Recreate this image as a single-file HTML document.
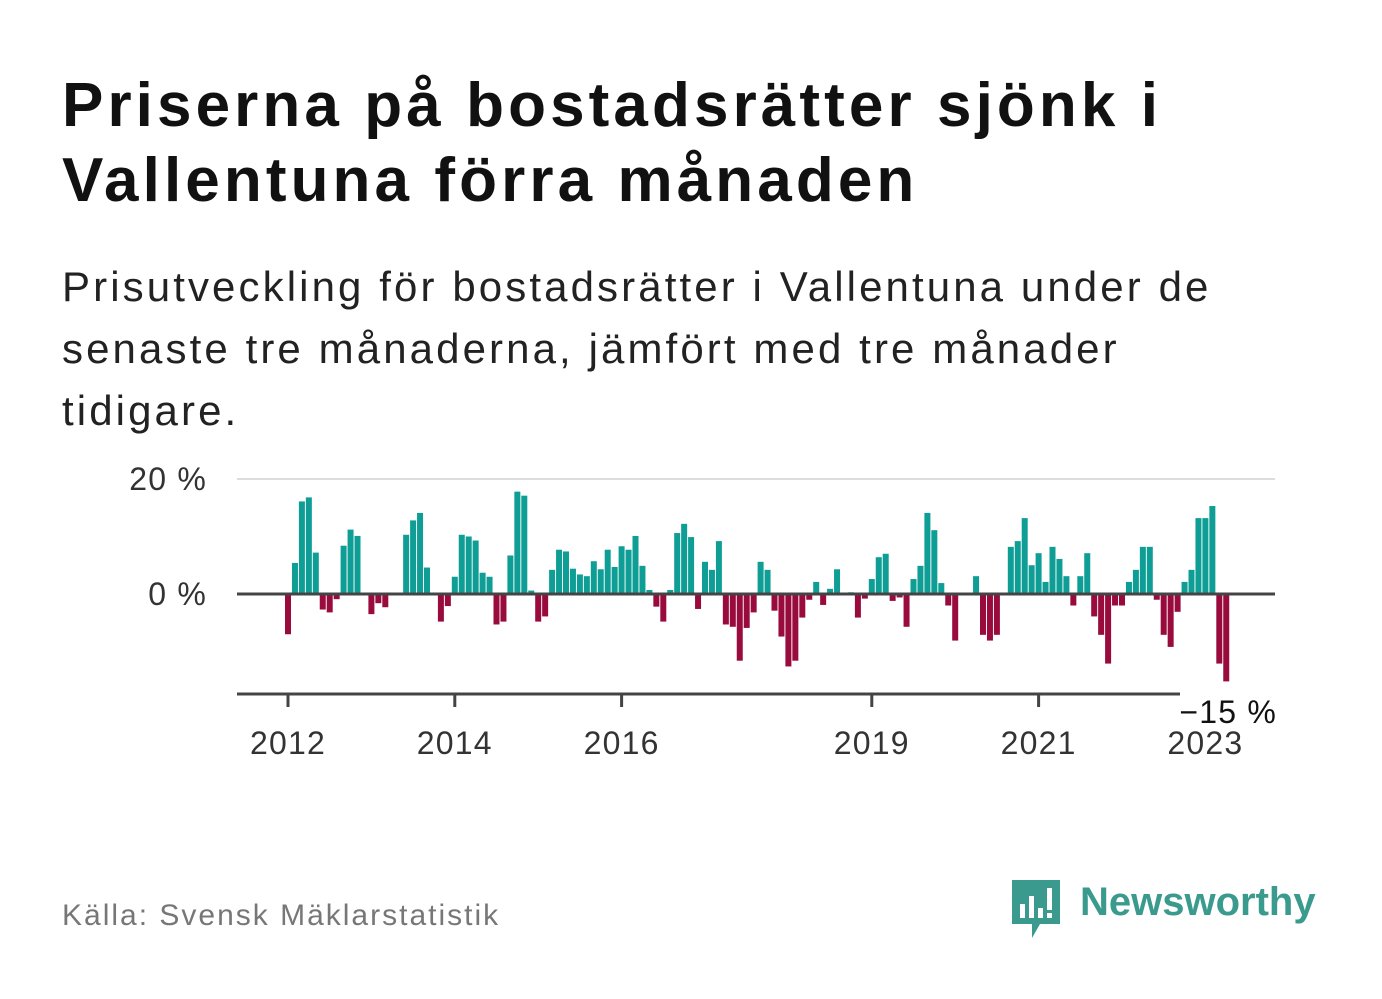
<!DOCTYPE html>
<html><head><meta charset="utf-8"><style>
body{margin:0;width:1382px;height:999px;background:#fff;font-family:"Liberation Sans",sans-serif;position:relative;overflow:hidden}
.t{position:absolute;left:62px;top:68px;font-size:62px;font-weight:bold;color:#111;line-height:75px;width:1300px;letter-spacing:4.1px;white-space:nowrap}
.s{position:absolute;left:62px;top:256px;font-size:42px;color:#222;line-height:62px;width:1300px;letter-spacing:3.1px;white-space:nowrap}
.src{position:absolute;left:62px;top:899px;font-size:30px;color:#777;letter-spacing:2px}
text{letter-spacing:1.2px}
</style></head><body>
<div class="t">Priserna på bostadsrätter sjönk i<br>Vallentuna förra månaden</div>
<div class="s">Prisutveckling för bostadsrätter i Vallentuna under de<br>senaste tre månaderna, jämfört med tre månader<br>tidigare.</div>
<svg id="chart" width="1382" height="999" style="position:absolute;left:0;top:0"></svg>
<div class="src">Källa: Svensk Mäklarstatistik</div>
<div style="position:absolute;left:1012px;top:880px;height:60px;width:320px">
<svg width="50" height="60" style="position:absolute;left:0;top:0"><path d="M0 0H48V44H28L20 58V44H0Z" fill="#3a9a8e"/><rect x="8" y="24" width="5" height="14" fill="#fff"/><rect x="17" y="16" width="5" height="22" fill="#fff"/><rect x="26" y="28" width="5" height="10" fill="#fff"/><rect x="35" y="8" width="5" height="22" fill="#fff"/><rect x="35" y="33" width="5" height="5" fill="#fff"/></svg>
<div style="position:absolute;left:68px;top:0;font-size:40px;font-weight:bold;color:#3a9a8e">Newsworthy</div></div>
<script>
const values=[-7.0,5.4,16.1,16.8,7.2,-2.7,-3.2,-0.9,8.4,11.2,10.1,null,-3.5,-1.6,-2.3,null,null,10.3,12.8,14.1,4.6,null,-4.8,-2.1,
3.0,10.3,10.0,9.3,3.7,3.0,-5.3,-4.8,6.7,17.8,17.1,0.6,-4.8,-3.9,4.2,7.7,7.4,4.4,3.4,3.1,5.7,4.3,7.7,4.7,
8.3,7.7,10.1,4.9,0.7,-2.2,-4.8,0.7,10.6,12.2,9.9,-2.6,5.6,4.2,9.2,-5.3,-5.7,-11.6,-5.9,-3.2,5.6,4.2,-2.9,-7.4,
-12.6,-11.6,-4.1,-1.0,2.1,-1.9,0.9,4.3,null,0.3,-4.1,-0.8,2.6,6.4,7.0,-1.2,-0.6,-5.7,2.6,4.9,14.1,11.1,1.9,-2.0,
-8.1,null,null,3.1,-7.1,-8.1,-7.1,null,8.2,9.2,13.2,5.0,7.1,2.1,8.2,6.1,3.1,-2.0,3.1,7.1,-3.9,-7.1,-12.1,-2.0,
-2.0,2.1,4.2,8.2,8.2,-1.0,-7.1,-9.2,-3.1,2.1,4.2,13.2,13.2,15.3,-12.1,-15.2];
const yTicks=[0,20];
const yTickLabels=["0 %","20 %"];
const xTickMonths=[0,24,48,84,108,132];
const xTickLabels=["2012","2014","2016","2019","2021","2023"];
const lastLabel="−15 %";
const svg=document.getElementById('chart');const NS='http://www.w3.org/2000/svg';
const X=i=>288+6.95*i, Y=v=>594-v*5.75;
function mk(t,a){const e=document.createElementNS(NS,t);for(const k in a)e.setAttribute(k,a[k]);svg.appendChild(e);return e;}
const g=mk('line',{x1:237,x2:1275,y1:Y(20),y2:Y(20),stroke:'#ddd','stroke-width':2});


yTicks.forEach((v,k)=>{const t=mk('text',{x:207,y:Y(v)+11,'text-anchor':'end','font-size':32,fill:'#333'});t.textContent=yTickLabels[k];

});
values.forEach((v,i)=>{if(v===null)return;const r=mk('rect',{x:X(i)-3,width:6,y:v>=0?Y(v):Y(0),height:Math.abs(v)*5.75,fill:v>=0?'#0e9e95':'#990a3d'});

});
const z=mk('line',{x1:237,x2:1275,y1:Y(0),y2:Y(0),stroke:'#444','stroke-width':3});


const ax=mk('line',{x1:237,x2:1275,y1:694,y2:694,stroke:'#444','stroke-width':3});


xTickMonths.forEach((m,k)=>{const l=mk('line',{x1:X(m),x2:X(m),y1:694,y2:707,stroke:'#444','stroke-width':3});


const t=mk('text',{x:X(m),y:754,'text-anchor':'middle','font-size':32,fill:'#333'});t.textContent=xTickLabels[k];

});
const bg=mk('rect',{x:1180,y:692,width:98,height:34,fill:'#fff'});


const lv=mk('text',{x:1277,y:723,'text-anchor':'end','font-size':32,fill:'#111'});lv.textContent=lastLabel;


</script>
</body></html>
